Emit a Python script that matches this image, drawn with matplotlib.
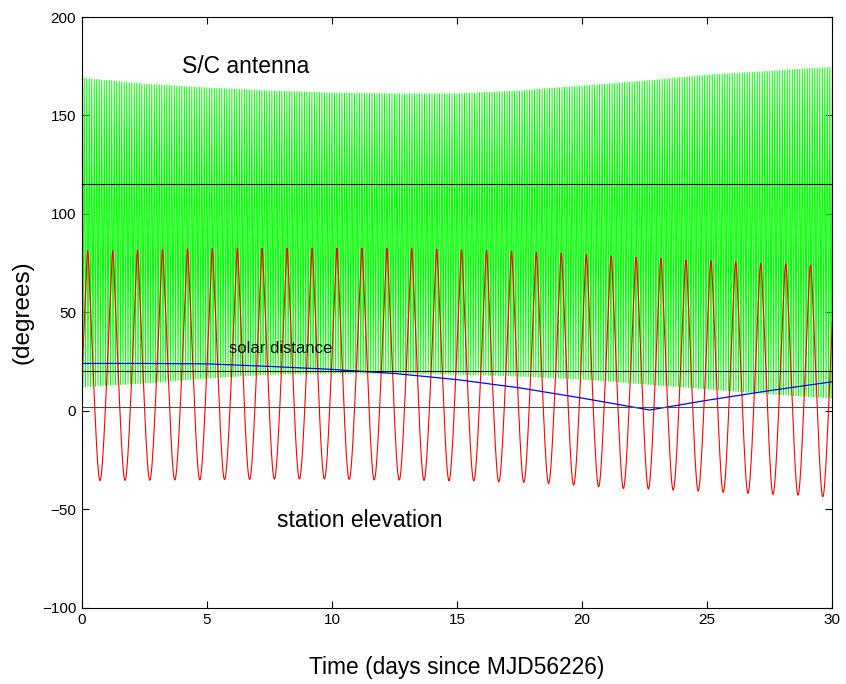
import numpy as np
import matplotlib.pyplot as plt

plt.rcParams['font.family'] = ['Liberation Sans', 'DejaVu Sans']

# S/C antenna angle: upper / lower envelope read every 2.5 days, one swing per 0.1 day
ant_days = [0, 2.5, 5, 7.5, 10, 12.5, 15, 17.5, 20, 22.5, 25, 27.5, 30]
ant_high = [169, 166, 164, 162.5, 161.5, 161, 161, 162.5, 165, 167.5, 170.5, 172.5, 174.5]
ant_low = [12, 14, 16.5, 18.5, 19, 19, 18.5, 17.5, 16, 13.5, 11, 8.5, 6.3]
ant_period = 0.1

# station elevation: daily maxima and minima
peak_days = [0.24, 1.24, 2.23, 3.23, 4.23, 5.22, 6.22, 7.21, 8.21, 9.21,
             10.20, 11.20, 12.20, 13.19, 14.19, 15.18, 16.18, 17.18, 18.17, 19.17,
             20.17, 21.16, 22.16, 23.15, 24.15, 25.15, 26.14, 27.14, 28.14, 29.13, 30.13]
peak_vals = [81.3, 81.3, 81.7, 82.0, 82.2, 82.4, 82.5, 82.5, 82.5, 82.5,
             82.5, 82.5, 82.4, 82.3, 82.0, 81.7, 81.3, 81.0, 80.5, 80.0,
             79.3, 78.6, 77.9, 77.4, 76.6, 76.1, 75.6, 74.9, 74.6, 74.1, 73.6]
trough_days = [-0.25, 0.73, 1.73, 2.72, 3.72, 4.72, 5.71, 6.71, 7.70, 8.70, 9.70,
               10.69, 11.69, 12.69, 13.68, 14.68, 15.67, 16.67, 17.67, 18.66, 19.66,
               20.66, 21.65, 22.65, 23.64, 24.64, 25.64, 26.63, 27.63, 28.63, 29.62]
trough_vals = [-35.5, -35.5, -35.4, -35.3, -35.2, -35.1, -35.0, -34.9, -34.7, -34.7, -34.7,
               -34.9, -35.2, -35.2, -35.4, -35.6, -35.7, -36.1, -36.4, -37.0, -37.8,
               -38.6, -39.5, -39.8, -40.3, -40.8, -41.5, -42.0, -42.5, -42.9, -43.7]

# solar distance
sun_days = [0, 2.5, 5, 7.5, 10, 12.5, 15, 17.5, 20, 22.7, 25, 27.5, 30]
sun_dist = [24, 24, 23.8, 22.5, 21.0, 18.9, 15.8, 11.6, 6.4, 0.35, 5.3, 10.2, 14.7]

# horizontal reference levels
ref_levels = [115, 20, 2]

# antenna trace: alternate between envelope extremes
t_ant = np.arange(0, 30 + ant_period / 4, ant_period / 2)
hi = np.interp(t_ant, ant_days, ant_high)
lo = np.interp(t_ant, ant_days, ant_low)
y_ant = np.where(np.arange(len(t_ant)) % 2 == 0, hi, lo)

# elevation trace: arcsin-shaped swing between successive extremes
ext_t = np.array(trough_days + peak_days)
ext_v = np.array(trough_vals + peak_vals)
order = np.argsort(ext_t)
ext_t, ext_v = ext_t[order], ext_v[order]
t_el, y_el = [], []
for i in range(len(ext_t) - 1):
    u = np.linspace(0, 1, 60)
    sa, sb = np.sin(np.radians(ext_v[i])), np.sin(np.radians(ext_v[i + 1]))
    v = np.degrees(np.arcsin((sa + sb) / 2 + (sa - sb) / 2 * np.cos(np.pi * u)))
    t_el.append(ext_t[i] + u * (ext_t[i + 1] - ext_t[i]))
    y_el.append(v)
t_el = np.concatenate(t_el)
y_el = np.concatenate(y_el)

fig = plt.figure(figsize=(8.46, 6.84), dpi=100)
ax = fig.add_axes([0.0966, 0.1118, 0.8872, 0.8633])

ax.plot(t_ant, y_ant, color=(0, 1, 0), lw=0.7)
ax.plot(t_el, y_el, color='red', lw=0.8)
ax.plot(sun_days, sun_dist, color='blue', lw=0.9)
for lev, col in zip(ref_levels, ['black', 'black', '0.3']):
    ax.axhline(lev, color=col, lw=0.8)

ax.text(4.0, 175, 'S/C antenna', fontsize=16.5, va='center')
ax.text(5.9, 31.5, 'solar distance', fontsize=12, va='center')
ax.text(7.8, -56, 'station elevation', fontsize=16.5, va='center')

ax.set_xlim(0, 30)
ax.set_ylim(-100, 200)
ax.set_xticks(range(0, 31, 5))
ax.set_yticks(range(-100, 201, 50))
ax.set_yticklabels(['\u2212100', '\u221250', '0', '50', '100', '150', '200'])
ax.tick_params(direction='in', top=True, right=True, length=5, labelsize=11, pad=4)
for s in ax.spines.values():
    s.set_linewidth(0.8)
ax.set_xlabel('Time (days since MJD56226)', fontsize=16.4, labelpad=21)
ax.set_ylabel('(degrees)', fontsize=17.5, labelpad=6)

fig.savefig('out.png', dpi=100)
